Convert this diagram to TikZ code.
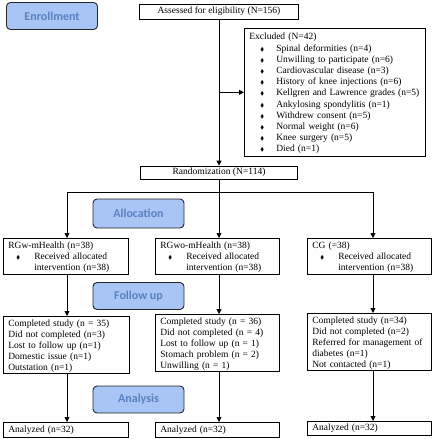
\documentclass[tikz,border=0pt]{standalone}
\usepackage{fontspec}
\usepackage{amssymb}
\usepackage{graphicx}
\setmainfont{Liberation Serif}
\newfontfamily\stagefont{Carlito}
\usetikzlibrary{arrows.meta}

\definecolor{stagefill}{HTML}{A9C5F5}
\definecolor{stagetext}{HTML}{5A80C2}
\newcommand\bul{\makebox[8pt]{\scalebox{0.6}{$\blacklozenge$}}}

\tikzset{
    stage/.style={draw=black!85, line width=0.9pt, rounded corners=4pt,
	fill=stagefill, text=stagetext, minimum width=91pt, minimum height=27pt,
	font=\stagefont\bfseries\fontsize{12}{12}\selectfont},
    box/.style={draw, line width=0.7pt, anchor=north west, align=left,
	inner xsep=5pt, inner ysep=1.5pt, font=\fontsize{9.5}{10.8}\selectfont},
    listbox/.style={box, execute at begin node={\rule{0pt}{9pt}}},
    flow/.style={line width=0.9pt, -{Triangle[length=5pt,width=5pt]}}
}

\begin{document}
\begin{tikzpicture}[x=1pt, y=-1pt]
    \useasboundingbox (0, 0) rectangle (440, 439);

    \node[stage] (enrol) at (52, 16) {Enrollment};
    \node[stage, minimum height=29pt] (alloc) at (138.5, 213.5) {Allocation};
    \node[stage] (follow) at (138.5, 296) {Follow up};
    \node[stage] (anal) at (138.5, 399.5) {Analysis};

    \node[box, anchor=center, align=center, minimum width=159pt, minimum height=15pt]
	(assess) at (219, 11.5) {Assessed for eligibility (N=156)};
    \node[listbox, text width=171pt, minimum height=128pt,
	font=\fontsize{9.5}{11.2}\selectfont]
	(excl) at (244, 28) {Excluded (N=42)\\
	\hspace*{9pt}\bul\hspace{10pt}Spinal deformities (n=4)\\
	\hspace*{9pt}\bul\hspace{10pt}Unwilling to participate (n=6)\\
	\hspace*{9pt}\bul\hspace{10pt}Cardiovascular disease (n=3)\\
	\hspace*{9pt}\bul\hspace{10pt}History of knee injections (n=6)\\
	\hspace*{9pt}\bul\hspace{10pt}Kellgren and Lawrence grades (n=5)\\
	\hspace*{9pt}\bul\hspace{10pt}Ankylosing spondylitis (n=1)\\
	\hspace*{9pt}\bul\hspace{10pt}Withdrew consent (n=5)\\
	\hspace*{9pt}\bul\hspace{10pt}Normal weight (n=6)\\
	\hspace*{9pt}\bul\hspace{10pt}Knee surgery (n=5)\\
	\hspace*{9pt}\bul\hspace{10pt}Died (n=1)};
    \node[box, anchor=center, align=center, minimum width=157pt, minimum height=13pt]
	(rand) at (219, 172.5) {Randomization (N=114)};

    \node[listbox, text width=115pt, minimum height=35pt] (g1) at (3, 238)
	{RGw-mHealth (n=38)\\
	\hspace*{6pt}\bul\hspace{12pt}Received allocated\\
	\hspace*{26pt}intervention (n=38)};
    \node[listbox, text width=114pt, minimum height=35pt] (g2) at (155, 238)
	{RGwo-mHealth (n=38)\\
	\hspace*{6pt}\bul\hspace{12pt}Received allocated\\
	\hspace*{26pt}intervention (n=38)};
    \node[listbox, text width=114pt, minimum height=35pt] (g3) at (307, 238)
	{CG (=38)\\
	\hspace*{6pt}\bul\hspace{12pt}Received allocated\\
	\hspace*{26pt}intervention (n=38)};

    \node[listbox, text width=116pt, minimum height=57pt] (f1) at (3, 316)
	{Completed study (n = 35)\\ Did not completed (n=3)\\ Lost to follow up (n=1)\\
	Domestic issue (n=1)\\ Outstation (n=1)};
    \node[listbox, text width=114pt, minimum height=56pt] (f2) at (155, 314)
	{Completed study (n = 36)\\ Did not completed (n = 4)\\ Lost to follow up (n = 1)\\
	Stomach problem (n = 2)\\ Unwilling (n = 1)};
    \node[listbox, text width=114pt, minimum height=56pt] (f3) at (307, 313)
	{Completed study (n=34)\\ Did not completed (n=2)\\ Referred for management of\\
	diabetes (n=1)\\ Not contacted (n=1)};

    \node[box, text width=115pt, minimum height=15pt] (a1) at (3, 422) {Analyzed (n=32)};
    \node[box, text width=114pt, minimum height=15pt] (a2) at (155, 422) {Analyzed (n=32)};
    \node[box, text width=114pt, minimum height=14pt] (a3) at (307, 421) {Analyzed (n=32)};

    \coordinate (b1) at (67, 192);
    \coordinate (b2) at (219, 192);
    \coordinate (b3) at (373, 192);

    \draw[flow] (assess) -- (rand);
    \draw[flow] (assess.south |- excl.west) -- (excl.west);
    \draw[line width=0.9pt] (rand) -- (b2);
    \draw[line width=0.9pt] (b1) -- (b3);

    \draw[flow] (b1) -- (b1 |- g1.north);
    \draw[flow] (b2) -- (b2 |- g2.north);
    \draw[flow] (b3) -- (b3 |- g3.north);
    \draw[flow] (g1.south -| b1) -- (f1.north -| b1);
    \draw[flow] (g2.south -| b2) -- (f2.north -| b2);
    \draw[flow] (g3.south -| b3) -- (f3.north -| b3);
    \draw[flow] (f1.south -| b1) -- (a1.north -| b1);
    \draw[flow] (f2.south -| b2) -- (a2.north -| b2);
    \draw[flow] (f3.south -| b3) -- (a3.north -| b3);
\end{tikzpicture}
\end{document}
